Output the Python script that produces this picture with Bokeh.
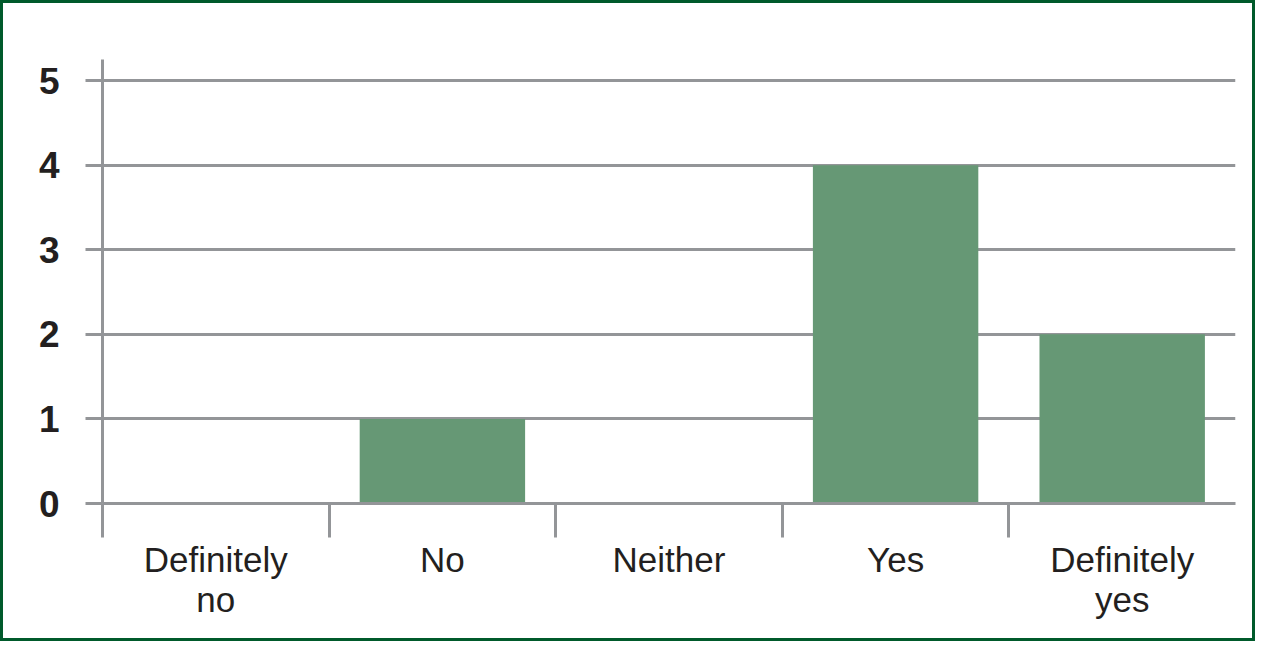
from bokeh.plotting import figure
from bokeh.models import FixedTicker, Range1d, ColumnDataSource
from bokeh.layouts import column
from bokeh.embed import file_html
from bokeh.resources import INLINE

categories = ["Definitely\nno", "No", "Neither", "Yes", "Definitely\nyes"]
counts = [0, 1, 0, 4, 2]
y_ticks = [0, 1, 2, 3, 4, 5]

GRAY = "#939598"
BAR = "#669875"
TEXT = "#231f20"
FONT = "Liberation Sans"

xs = [i + 0.5 for i in range(len(categories))]
src = ColumnDataSource(dict(x=xs, top=counts))

p = figure(width=1249, height=635, output_backend="svg", toolbar_location=None,
           x_range=Range1d(0, len(categories)), y_range=Range1d(0, 5.25),
           min_border_left=99, min_border_right=17, min_border_top=56, min_border_bottom=135)
p.styles = {"background-color": "white"}
p.outline_line_color = None
p.background_fill_color = "white"
p.border_fill_color = "white"

p.vbar(x="x", top="top", width=0.73, bottom=0, source=src, fill_color=BAR, line_color=None)

p.xgrid.visible = False
p.ygrid.ticker = FixedTicker(ticks=y_ticks)
p.ygrid.grid_line_color = GRAY
p.ygrid.grid_line_width = 3

ya = p.yaxis[0]
ya.ticker = FixedTicker(ticks=y_ticks)
ya.axis_line_color = GRAY
ya.axis_line_width = 3
ya.major_tick_line_color = GRAY
ya.major_tick_line_width = 3
ya.major_tick_out = 17
ya.major_tick_in = 0
ya.minor_tick_line_color = None
ya.major_label_standoff = 26
ya.major_label_text_font = FONT
ya.major_label_text_font_style = "bold"
ya.major_label_text_font_size = "37px"
ya.major_label_text_color = TEXT

xa = p.xaxis[0]
xa.ticker = FixedTicker(ticks=xs, minor_ticks=list(range(len(categories))))
xa.major_label_overrides = {x: c for x, c in zip(xs, categories)}
xa.axis_line_color = GRAY
xa.axis_line_width = 3
xa.major_tick_line_color = None
xa.major_tick_out = 0
xa.major_tick_in = 0
xa.minor_tick_line_color = GRAY
xa.minor_tick_line_width = 3
xa.minor_tick_out = 34
xa.minor_tick_in = 0
xa.major_label_standoff = 2
xa.major_label_text_font = FONT
xa.major_label_text_font_size = "35px"
xa.major_label_text_color = TEXT
xa.major_label_text_line_height = 1.05

layout = column(p, styles={"background-color": "#005a2b", "padding": "3px"})

open("out.html", "w").write(file_html(layout, INLINE))
